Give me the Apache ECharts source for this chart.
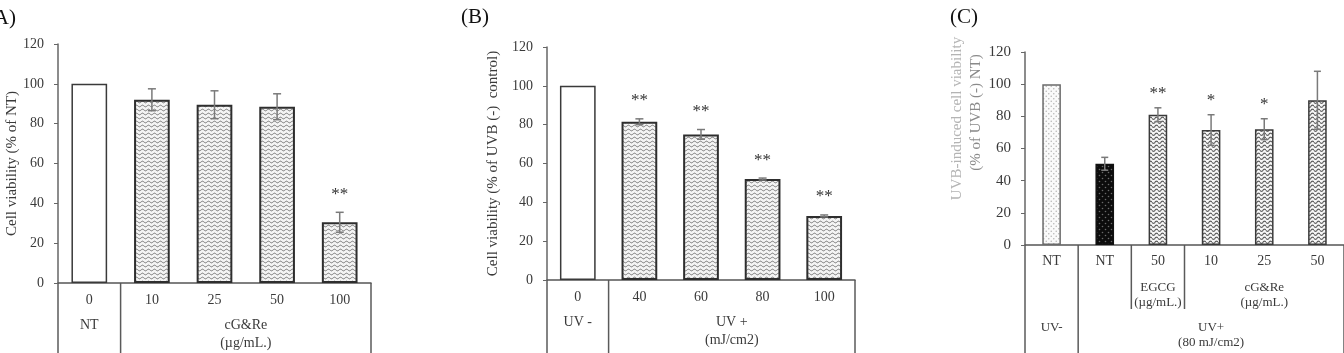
<!DOCTYPE html>
<html><head><meta charset="utf-8">
<script src="https://cdn.jsdelivr.net/npm/echarts@6/dist/echarts.min.js"></script>
<style>html,body{margin:0;padding:0;background:#fff;overflow:hidden}#c{width:1344px;height:353px}</style>
</head><body><div id="c"></div>
<script>
// ---------- data ----------
const yMin = 0, yMax = 120, yStep = 20;

const categoriesA = ['0', '10', '25', '50', '100'];
const valuesA = [100, 92, 89.5, 88.5, 30.5];
const errorsA = [0, 5.5, 7, 6.5, 5];
const starsA = ['', '', '', '', '**'];
const groupLabelsA = ['NT', 'cG&Re\n(µg/mL.)'];
const groupSpansA = [[0, 0], [1, 4]];
const yNameA = 'Cell viability (% of NT)';

const categoriesB = ['0', '40', '60', '80', '100'];
const valuesB = [100, 81.5, 75, 52, 33];
const errorsB = [0, 1.5, 2.5, 0.5, 0.5];
const starsB = ['', '**', '**', '**', '**'];
const groupLabelsB = ['UV -', 'UV +\n(mJ/cm2)'];
const groupSpansB = [[0, 0], [1, 4]];
const yNameB = 'Cell viability (% of UVB (-)  control)';

const categoriesC = ['NT', 'NT', '50', '10', '25', '50'];
const valuesC = [100, 50.5, 81, 71.5, 72, 90];
const errorsC = [0, 4, 4.3, 9.5, 6.5, 18];
const starsC = ['', '', '**', '*', '*', ''];
const agentLabelsC = ['EGCG\n(µg/mL.)', 'cG&Re\n(µg/mL.)'];
const agentSpansC = [[2, 2], [3, 5]];
const uvLabelsC = ['UV-', 'UV+\n(80 mJ/cm2)'];
const uvSpansC = [[0, 0], [1, 5]];
const yNameC = ['UVB-induced cell viability', '(% of UVB (-) NT)'];

const panelLabels = ['(A)', '(B)', '(C)'];

// ---------- patterns ----------
function wave(period, spacing, amp, color, lw, bg) {
  const c = document.createElement('canvas');
  c.width = period; c.height = spacing;
  const g = c.getContext('2d');
  g.fillStyle = bg; g.fillRect(0, 0, period, spacing);
  g.strokeStyle = color; g.lineWidth = lw;
  for (const off of [-spacing, 0, spacing]) {
    g.beginPath();
    for (let x = 0; x <= period; x += 0.25) {
      const y = spacing / 2 + off + amp * Math.sin(2 * Math.PI * x / period);
      x === 0 ? g.moveTo(x, y) : g.lineTo(x, y);
    }
    g.stroke();
  }
  return { image: c, repeat: 'repeat' };
}
function dots(size, bg, fg, r) {
  const c = document.createElement('canvas');
  c.width = size; c.height = size;
  const g = c.getContext('2d');
  g.fillStyle = bg; g.fillRect(0, 0, size, size);
  g.fillStyle = fg;
  g.beginPath(); g.arc(size / 4, size / 4, r, 0, 2 * Math.PI); g.fill();
  g.beginPath(); g.arc(3 * size / 4, 3 * size / 4, r, 0, 2 * Math.PI); g.fill();
  return { image: c, repeat: 'repeat' };
}
const waveAB = wave(6, 4, 0.8, '#6a6a6a', 1, '#f4f4f4');
const waveC = wave(6, 4.5, 1.1, '#555', 1.1, '#f6f6f6');
const dotLight = dots(5, '#fafafa', '#b8b8b8', 0.8);
const dotDark = dots(6, '#0c0c0c', '#6a6a6a', 0.8);

const FONT = "'Liberation Serif', 'DejaVu Serif', serif";
const TXT = '#3a3a3a';

function barSeries(gi, vals, styleFn, widthPct) {
  return {
    type: 'bar', xAxisIndex: gi, yAxisIndex: gi, barWidth: widthPct,
    data: vals.map((v, i) => ({ value: v, itemStyle: styleFn(i) })),
    silent: true, animation: false
  };
}
function errSeries(gi, vals, errs, stars, cap, starGap, starSize) {
  return {
    type: 'custom', xAxisIndex: gi, yAxisIndex: gi, z: 10, animation: false, silent: true,
    data: vals.map((v, i) => [i, v, errs[i]]),
    renderItem(params, api) {
      const i = api.value(0), v = api.value(1), e = api.value(2);
      const top = api.coord([i, v + e]), bot = api.coord([i, v - e]);
      const st = { stroke: '#7a7a7a', lineWidth: 1.5 };
      const ch = [];
      if (e > 0) {
        ch.push({ type: 'line', shape: { x1: top[0], y1: top[1], x2: bot[0], y2: bot[1] }, style: st });
        ch.push({ type: 'line', shape: { x1: top[0] - cap, y1: top[1], x2: top[0] + cap, y2: top[1] }, style: st });
        ch.push({ type: 'line', shape: { x1: bot[0] - cap, y1: bot[1], x2: bot[0] + cap, y2: bot[1] }, style: st });
      }
      const s = stars[i];
      if (s) ch.push({ type: 'text', style: { text: s, x: top[0], y: top[1] - starGap, align: 'center', verticalAlign: 'middle', font: starSize + 'px ' + FONT, fill: '#333' } });
      return { type: 'group', children: ch };
    }
  };
}
function xAxis(gi, cats, margin, size) {
  return {
    type: 'category', gridIndex: gi, data: cats,
    axisLine: { lineStyle: { color: '#555', width: 1.5 } },
    axisTick: { show: false },
    axisLabel: { margin, fontFamily: FONT, fontSize: size, color: TXT, interval: 0 },
    splitLine: { show: false }
  };
}
function yAxis(gi, name, gap, size) {
  return {
    type: 'value', gridIndex: gi, min: yMin, max: yMax, interval: yStep,
    name, nameLocation: 'middle', nameGap: gap, nameRotate: 90,
    nameTextStyle: { fontFamily: FONT, fontSize: 15, color: TXT },
    axisLine: { show: true, lineStyle: { color: '#666', width: 1.5 } },
    axisTick: { show: true, length: 4, lineStyle: { color: '#666', width: 1 } },
    axisLabel: { margin: 14, fontFamily: FONT, fontSize: size, color: TXT },
    splitLine: { show: false }
  };
}

const abStyle = i => i === 0
  ? { color: '#fff', borderColor: '#3a3a3a', borderWidth: 1.5 }
  : { color: waveAB, borderColor: '#2e2e2e', borderWidth: 2 };
const cStyle = i => i === 0
  ? { color: dotLight, borderColor: '#6a6a6a', borderWidth: 1.5 }
  : i === 1 ? { color: dotDark, borderColor: '#111', borderWidth: 1.5 }
  : { color: waveC, borderColor: '#3a3a3a', borderWidth: 1.5 };

const chart = echarts.init(document.getElementById('c'), null, { renderer: 'canvas' });
chart.setOption({
  animation: false,
  backgroundColor: '#fff',
  grid: [
    { left: 58, top: 44, width: 313, height: 239 },
    { left: 547, top: 47, width: 308, height: 233 },
    { left: 1025, top: 52, width: 330, height: 193 }
  ],
  xAxis: [xAxis(0, categoriesA, 10, 14), xAxis(1, categoriesB, 10, 14), xAxis(2, categoriesC, 9, 14)],
  yAxis: [yAxis(0, yNameA, 28, 14), yAxis(1, yNameB, 46, 14), yAxis(2, '', 0, 15)],
  series: [
    barSeries(0, valuesA, abStyle, '57%'),
    errSeries(0, valuesA, errorsA, starsA, 4, 18, 17),
    barSeries(1, valuesB, abStyle, '58%'),
    errSeries(1, valuesB, errorsB, starsB, 4, 18, 17),
    barSeries(2, valuesC, cStyle, '35%'),
    errSeries(2, valuesC, errorsC, starsC, 3.5, 14, 17)
  ]
});

// ---------- category table below each axis (positions from the axis scales) ----------
const H = 353;
const lineSt = { stroke: '#5a5a5a', lineWidth: 1.5 };
const gfx = [];
function geo(gi) {
  const p0 = chart.convertToPixel({ xAxisIndex: gi, yAxisIndex: gi }, [0, 0]);
  const p1 = chart.convertToPixel({ xAxisIndex: gi, yAxisIndex: gi }, [1, 0]);
  const band = p1[0] - p0[0];
  return { band, y0: p0[1], edge: k => p0[0] + (k - 0.5) * band, center: k => p0[0] + k * band };
}
function vline(x, y1, y2) { gfx.push({ type: 'line', shape: { x1: x, y1, x2: x, y2 }, style: lineSt, silent: true }); }
function label(text, x, y, size, lh, color) {
  gfx.push({ type: 'text', silent: true, style: { text, x, y, align: 'center', verticalAlign: 'top', font: size + 'px ' + FONT, fill: color || TXT, lineHeight: lh } });
}
function spanCenter(g, s) { return (g.edge(s[0]) + g.edge(s[1] + 1)) / 2; }

// A and B
[[0, groupLabelsA, groupSpansA], [1, groupLabelsB, groupSpansB]].forEach(([gi, labs, spans]) => {
  const g = geo(gi);
  vline(g.edge(0), g.y0, H);
  spans.forEach(s => vline(g.edge(s[1] + 1), g.y0, H));
  labs.forEach((t, k) => label(t, spanCenter(g, spans[k]), g.y0 + 33, 14, 18));
});
// C
(() => {
  const g = geo(2);
  vline(g.edge(0), g.y0, H);
  uvSpansC.forEach(s => vline(g.edge(s[1] + 1), g.y0, H));
  vline(g.edge(agentSpansC[0][0]), g.y0, g.y0 + 64);
  vline(g.edge(agentSpansC[0][1] + 1), g.y0, g.y0 + 64);
  agentLabelsC.forEach((t, k) => label(t, spanCenter(g, agentSpansC[k]), g.y0 + 35, 13, 15));
  uvLabelsC.forEach((t, k) => label(t, spanCenter(g, uvSpansC[k]), g.y0 + 75, 13, 15));
  // y-axis title of panel C (two lines, first one faint and partly cut)
  const mid = chart.convertToPixel({ yAxisIndex: 2 }, 60);
  gfx.push({ type: 'text', silent: true, rotation: Math.PI / 2, x: 957, y: mid - 30,
    style: { text: yNameC[0], align: 'center', verticalAlign: 'middle', font: '15px ' + FONT, fill: '#b4b4b4' } });
  gfx.push({ type: 'text', silent: true, rotation: Math.PI / 2, x: 976, y: mid - 36,
    style: { text: yNameC[1], align: 'center', verticalAlign: 'middle', font: '15px ' + FONT, fill: '#8a8a8a' } });
})();

// panel letters
gfx.push({ type: 'text', silent: true, style: { text: panelLabels[0], x: 16, y: 18, align: 'right', verticalAlign: 'middle', font: '21px ' + FONT, fill: '#111' } });
gfx.push({ type: 'text', silent: true, style: { text: panelLabels[1], x: 461, y: 17, align: 'left', verticalAlign: 'middle', font: '21px ' + FONT, fill: '#111' } });
gfx.push({ type: 'text', silent: true, style: { text: panelLabels[2], x: 950, y: 17, align: 'left', verticalAlign: 'middle', font: '21px ' + FONT, fill: '#111' } });

chart.setOption({ graphic: gfx });
</script></body></html>
